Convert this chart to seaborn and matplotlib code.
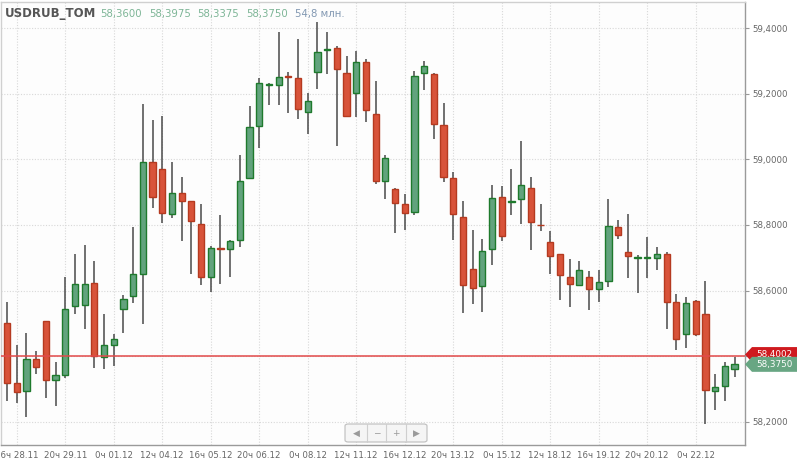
import numpy as np
import pandas as pd
import matplotlib
matplotlib.use("Agg")
import matplotlib.pyplot as plt
import matplotlib.patches as mpatches
import matplotlib.transforms as mtransforms
import seaborn as sns

# ==================================================
# SETTINGS
# ==================================================

sns.set_style("white")
plt.rcParams["font.family"] = ["DejaVu Sans"]

# ==================================================
# DATA (4h candles, USDRUB_TOM)
# ==================================================

opens = [
    58.502, 58.317, 58.294, 58.391, 58.508, 58.326, 58.344, 58.552, 58.557, 58.624,
    58.396, 58.434, 58.545, 58.582, 58.649, 58.991, 58.971, 58.834, 58.898, 58.872,
    58.803, 58.640, 58.730, 58.726, 58.753, 58.944, 59.102, 59.227, 59.228, 59.254,
    59.247, 59.146, 59.265, 59.335, 59.340, 59.262, 59.204, 59.296, 59.138, 58.934,
    58.909, 58.865, 58.841, 59.264, 59.259, 59.105, 58.942, 58.823, 58.666, 58.613,
    58.727, 58.884, 58.870, 58.878, 58.912, 58.801, 58.747, 58.713, 58.641, 58.617,
    58.641, 58.606, 58.629, 58.795, 58.719, 58.700, 58.700, 58.699, 58.710, 58.565,
    58.466, 58.568, 58.529, 58.295, 58.309, 58.360,
]
highs = [
    58.564, 58.434, 58.471, 58.415, 58.508, 58.381, 58.641, 58.713, 58.739, 58.689,
    58.527, 58.467, 58.586, 58.793, 59.168, 59.120, 59.131, 58.991, 58.945, 58.873,
    58.864, 58.736, 58.830, 58.754, 59.013, 59.163, 59.247, 59.232, 59.389, 59.268,
    59.366, 59.201, 59.419, 59.388, 59.346, 59.315, 59.330, 59.305, 59.240, 59.013,
    58.912, 58.893, 59.269, 59.301, 59.264, 59.173, 58.962, 58.874, 58.786, 58.756,
    58.921, 58.918, 58.970, 59.055, 58.945, 58.864, 58.781, 58.713, 58.695, 58.689,
    58.660, 58.664, 58.879, 58.815, 58.832, 58.707, 58.762, 58.734, 58.718, 58.591,
    58.579, 58.571, 58.630, 58.345, 58.383, 58.3975,
]
lows = [
    58.263, 58.256, 58.215, 58.347, 58.273, 58.247, 58.332, 58.530, 58.483, 58.364,
    58.362, 58.371, 58.471, 58.561, 58.497, 58.853, 58.805, 58.820, 58.750, 58.650,
    58.617, 58.596, 58.620, 58.642, 58.732, 58.944, 59.034, 59.165, 59.165, 59.142,
    59.122, 59.078, 59.215, 59.260, 59.042, 59.130, 59.128, 59.115, 58.926, 58.879,
    58.776, 58.786, 58.829, 59.211, 59.062, 58.930, 58.754, 58.533, 58.559, 58.536,
    58.677, 58.752, 58.830, 58.802, 58.723, 58.782, 58.652, 58.571, 58.551, 58.614,
    58.542, 58.566, 58.612, 58.756, 58.637, 58.594, 58.639, 58.664, 58.484, 58.418,
    58.426, 58.461, 58.193, 58.237, 58.264, 58.3375,
]
closes = [
    58.319, 58.291, 58.392, 58.366, 58.326, 58.344, 58.544, 58.621, 58.621, 58.400,
    58.434, 58.451, 58.573, 58.652, 58.991, 58.884, 58.836, 58.898, 58.872, 58.811,
    58.642, 58.731, 58.728, 58.750, 58.934, 59.100, 59.234, 59.230, 59.252, 59.252,
    59.154, 59.177, 59.328, 59.338, 59.275, 59.132, 59.296, 59.150, 58.934, 59.004,
    58.867, 58.838, 59.255, 59.284, 59.107, 58.945, 58.833, 58.618, 58.609, 58.722,
    58.881, 58.765, 58.873, 58.921, 58.808, 58.799, 58.706, 58.648, 58.621, 58.663,
    58.606, 58.627, 58.797, 58.769, 58.704, 58.702, 58.702, 58.710, 58.564, 58.453,
    58.563, 58.466, 58.296, 58.305, 58.369, 58.375,
]

tick_positions = [1, 6, 11, 16, 21, 26, 31, 36, 41, 46, 51, 56, 61, 66, 71]
tick_labels = [
    "16ч 28.11", "20ч 29.11", "0ч 01.12", "12ч 04.12", "16ч 05.12",
    "20ч 06.12", "0ч 08.12", "12ч 11.12", "16ч 12.12", "20ч 13.12",
    "0ч 15.12", "12ч 18.12", "16ч 19.12", "20ч 20.12", "0ч 22.12",
]
y_ticks = [58.2, 58.4, 58.6, 58.8, 59.0, 59.2, 59.4]

ref_level = 58.4002
volume_text = "54,8 млн."

df = pd.DataFrame({"open": opens, "high": highs, "low": lows, "close": closes})
df["x"] = np.arange(len(df))
df["up"] = df["close"] >= df["open"]
df["bottom"] = df[["open", "close"]].min(axis=1)
df["height"] = (df["close"] - df["open"]).abs().clip(lower=0.0015)

# ==================================================
# COLORS
# ==================================================

red_fill = "#d8533a"
red_edge = "#b53a20"
green_fill = "#62a37d"
green_edge = "#1e7a2c"
wick_color = "#4a4a4a"
text_gray = "#666666"

# ==================================================
# FIGURE
# ==================================================

fig = plt.figure(figsize=(8, 4.63), dpi=100)
fig.patch.set_facecolor("white")
ax = fig.add_axes([1 / 800, 18 / 463, 744 / 800, 443 / 463])
ax.set_facecolor("#fdfdfd")

ax.vlines(df["x"], df["low"], df["high"], color=wick_color, linewidth=1.1, zorder=2)

up = df[df["up"]]
down = df[~df["up"]]

ax.bar(up["x"], up["height"], bottom=up["bottom"], width=0.64,
       color=green_fill, edgecolor=green_edge, linewidth=1.0, zorder=3)
ax.bar(down["x"], down["height"], bottom=down["bottom"], width=0.64,
       color=red_fill, edgecolor=red_edge, linewidth=1.0, zorder=3)

ax.axhline(ref_level, color="#e24a4a", linewidth=1.1, zorder=4)

ax.set_xlim(-0.62, 76.08)
ax.set_ylim(58.129, 59.480)

# ==================================================
# AXES STYLE
# ==================================================

ax.grid(True, linestyle=(0, (1, 1.5)), color="#d8d8d8", linewidth=0.8)
ax.set_axisbelow(True)

ax.set_xticks(tick_positions)
ax.set_xticklabels(tick_labels)
ax.set_yticks(y_ticks)
ax.set_yticklabels([f"{v:.4f}".replace(".", ",") for v in y_ticks])
ax.yaxis.tick_right()

ax.tick_params(axis="x", length=3, width=0.8, color="#999999", pad=1.5,
               labelsize=6.2, labelcolor=text_gray)
ax.tick_params(axis="y", length=3, width=0.8, color="#999999", pad=2,
               labelsize=6.2, labelcolor=text_gray)

for side in ["left", "top"]:
    ax.spines[side].set_color("#d0d0d0")
    ax.spines[side].set_linewidth(1.0)
for side in ["right", "bottom"]:
    ax.spines[side].set_color("#9a9a9a")
    ax.spines[side].set_linewidth(1.0)

# ==================================================
# PRICE LABELS ON THE RIGHT
# ==================================================

trans = mtransforms.blended_transform_factory(ax.transAxes, ax.transData)
box_h = 15 / 327.8
tip = 7 / 744
box_w = 52 / 744
# the red marker box sits a touch above its line, the green one covers its lower half
label_specs = [(ref_level, 1.5 / 327.8, "#cf1a1f"), (closes[-1], 0.0, "#68a683")]

for level, shift, color in label_specs:
    yc = level + shift
    pts = [
        (1.0, yc),
        (1.0 + tip, yc + box_h / 2),
        (1.0 + box_w, yc + box_h / 2),
        (1.0 + box_w, yc - box_h / 2),
        (1.0 + tip, yc - box_h / 2),
    ]
    poly = mpatches.Polygon(pts, closed=True, transform=trans, facecolor=color,
                            edgecolor="none", clip_on=False, zorder=6)
    ax.add_patch(poly)
    ax.text(1.0 + tip + (box_w - tip) / 2, yc, f"{level:.4f}".replace(".", ","),
            transform=trans, ha="center", va="center", color="white",
            fontsize=6.3, clip_on=False, zorder=6)

# ==================================================
# HEADER
# ==================================================

header_y = 1 - 14 / 463
fig.text(5 / 800, header_y, "USDRUB_TOM", fontsize=8.5, fontweight="bold",
         color="#555555", va="center", ha="left")
ohlc_vals = [opens[-1], highs[-1], lows[-1], closes[-1]]
ohlc_x = [100, 149, 197, 246]
for xv, val in zip(ohlc_x, ohlc_vals):
    fig.text(xv / 800, header_y, f"{val:.4f}".replace(".", ","), fontsize=7.3,
             color="#7db596", va="center", ha="left")
fig.text(295 / 800, header_y, volume_text, fontsize=7.3, color="#8298b2",
         va="center", ha="left")

# ==================================================
# NAVIGATION WIDGET
# ==================================================

nav_left, nav_right = 345, 427
nav_top, nav_bottom = 424, 442
nav = mpatches.FancyBboxPatch(
    (nav_left / 800, (463 - nav_bottom) / 463),
    (nav_right - nav_left) / 800, (nav_bottom - nav_top) / 463,
    boxstyle="round,pad=0,rounding_size=0.004",
    transform=fig.transFigure, facecolor="#f5f5f5", edgecolor="#bdbdbd",
    linewidth=0.8, zorder=10)
fig.add_artist(nav)
for xd in [367, 386, 406]:
    fig.add_artist(plt.Line2D([xd / 800, xd / 800],
                              [(463 - nav_bottom) / 463, (463 - nav_top) / 463],
                              transform=fig.transFigure, color="#cfcfcf",
                              linewidth=0.8, zorder=11))
for xs, sym in zip([356, 376.5, 396, 416.5], ["◀", "−", "+", "▶"]):
    fig.text(xs / 800, (463 - 433) / 463, sym, fontsize=6.5, color="#9a9a9a",
             ha="center", va="center", zorder=12)

plt.savefig("out.png", dpi=100)
plt.close()
